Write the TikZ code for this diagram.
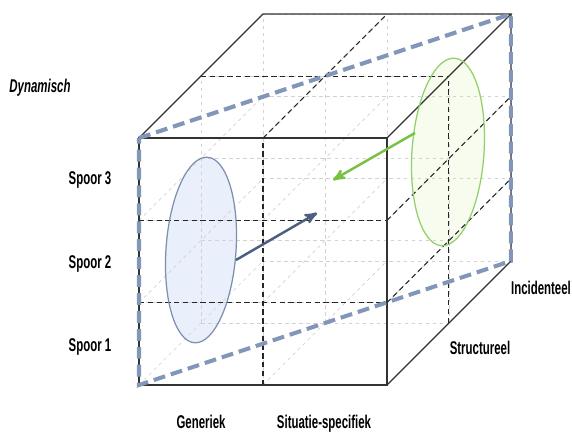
\documentclass[tikz,border=0pt]{standalone}
\usepackage{fontspec}
\newfontfamily\labelfont{Liberation Sans}[FakeStretch=0.62]
\usepackage{tikz}
\usetikzlibrary{arrows}

\definecolor{planeblue}{HTML}{8196B8}
\definecolor{arrowblue}{HTML}{4D5F80}
\definecolor{ellblue}{HTML}{E9F0FB}
\definecolor{ellblueline}{HTML}{7D8FAD}
\definecolor{ellgreen}{HTML}{F7FCEE}
\definecolor{ellgreenline}{HTML}{8ED167}
\definecolor{arrowgreen}{HTML}{78C142}

\begin{document}
\begin{tikzpicture}[x=0.02cm,y=-0.02cm,>=stealth',
  lbl/.style={font=\labelfont\bfseries\fontsize{10.5}{12}\selectfont,inner sep=0pt},
  griddash/.style={gray!35,line width=0.4pt,dash pattern=on 2pt off 2pt},
  facedash/.style={black!85,line width=0.6pt,dash pattern=on 3pt off 2pt},
  edge/.style={black!80,line width=0.7pt},
  plane/.style={planeblue,line width=2.3pt,dash pattern=on 6.8pt off 3.4pt},
  fatarrow/.style={->,line width=1.4pt}]
  \useasboundingbox (0,0) rectangle (572,432);

  % ellipses first, the grid shows through
  \coordinate (blueC) at (201,250);
  \coordinate (greenC) at (448,152);
  \fill[ellblue,rotate around={-4:(blueC)}] (blueC) ellipse (35 and 93);
  \fill[ellgreen,rotate around={-4:(greenC)}] (greenC) ellipse (36 and 94);

  % the cube, 2 columns x 3 rows x 2 deep
  \begin{scope}[shift={(139,385)},x={(2.48cm,0cm)},y={(0cm,1.6467cm)},z={(1.24cm,1.24cm)}]
    \foreach \j in {0,...,3}
      \foreach \k in {0,1,2}
        \draw[griddash] (0,\j,\k) -- (2,\j,\k);
    \foreach \i in {0,1,2}
      \foreach \k in {0,1,2}
        \draw[griddash] (\i,0,\k) -- (\i,3,\k);
    \foreach \i in {0,1,2}
      \foreach \j in {0,...,3}
        \draw[griddash] (\i,\j,0) -- (\i,\j,2);
    % visible faces
    \draw[facedash] (1,0,0) -- (1,3,0);
    \foreach \j in {1,2}
      \draw[facedash] (0,\j,0) -- (2,\j,0);
    \draw[facedash] (1,3,0) -- (1,3,2);
    \draw[facedash] (0,3,1) -- (2,3,1);
    \draw[facedash] (2,0,1) -- (2,3,1);
    \foreach \j in {1,2}
      \draw[facedash] (2,\j,0) -- (2,\j,2);
    % edges
    \draw[edge] (0,0,0) -- (2,0,0) -- (2,3,0) -- (0,3,0) -- cycle;
    \draw[edge] (0,3,0) -- (0,3,2) -- (2,3,2) -- (2,3,0);
    \draw[edge] (2,0,0) -- (2,0,2) -- (2,3,2);
    % diagonal plane
    \draw[plane] (0,3,0) -- (2,3,2) -- (2,0,2) -- (0,0,0) -- cycle;
  \end{scope}

  \draw[ellblueline,line width=0.7pt,rotate around={-4:(blueC)}] (blueC) ellipse (35 and 93);
  \draw[ellgreenline,line width=0.7pt,rotate around={-4:(greenC)}] (greenC) ellipse (36 and 94);

  % arrows
  \coordinate (blueStart) at (236,260);
  \coordinate (blueEnd) at (317,213);
  \coordinate (greenStart) at (415,133);
  \coordinate (greenEnd) at (333,180);
  \draw[fatarrow,arrowblue] (blueStart) -- (blueEnd);
  \draw[fatarrow,arrowgreen] (greenStart) -- (greenEnd);

  % labels
  \node[lbl] (dyn) at (40,88) {\itshape Dynamisch};
  \node[lbl] (spoor3) at (90,180) {Spoor 3};
  \node[lbl] (spoor2) at (90,264) {Spoor 2};
  \node[lbl] (spoor1) at (90,347) {Spoor 1};
  \node[lbl] (gen) at (201,422) {Generiek};
  \node[lbl] (sit) at (324,424) {Situatie-specifiek};
  \node[lbl] (inc) at (541,288) {Incidenteel};
  \node[lbl] (struc) at (480,348) {Structureel};
\end{tikzpicture}
\end{document}
